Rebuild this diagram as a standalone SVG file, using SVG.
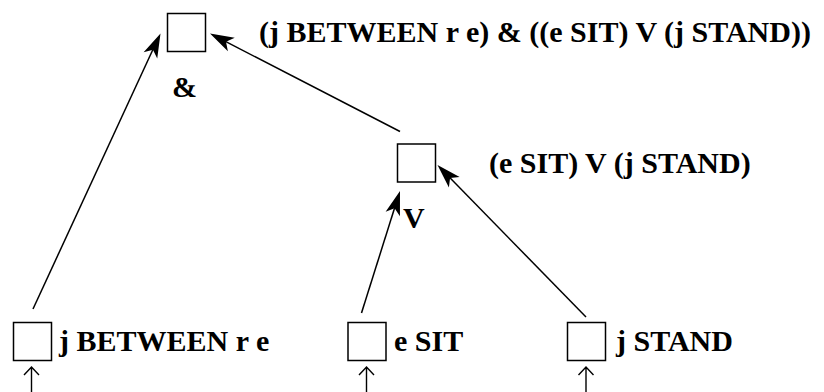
<svg xmlns="http://www.w3.org/2000/svg" width="824" height="392" viewBox="0 0 824 392">
<style>
.box{fill:#fff;stroke:#000;stroke-width:1.5}
.lbl{font-family:'Liberation Serif','Times New Roman',serif;font-weight:bold;font-size:30px;fill:#000}
.edge{stroke:#000;stroke-width:1.5;fill:none}
.in{stroke:#000;stroke-width:1.4;fill:none}
</style>
<defs>
<path id="head" d="M0,0 L-24,-7.5 L-18,0 L-24,7.5 Z" fill="#000"/>
</defs>
<rect width="824" height="392" fill="#fff"/>
<g id="connectors">
<line class="edge" x1="33" y1="309" x2="155" y2="45"/>
<use href="#head" transform="translate(160.5,33.5) rotate(-65.2)"/>
<line class="edge" x1="400" y1="131.5" x2="222" y2="39.7"/>
<use href="#head" transform="translate(210,33.5) rotate(-152.7)"/>
<line class="edge" x1="361.5" y1="313" x2="396" y2="203.5"/>
<use href="#head" transform="translate(400,191) rotate(-72.5)"/>
<line class="edge" x1="586" y1="317" x2="446.5" y2="174.3"/>
<use href="#head" transform="translate(437.5,165) rotate(-134.3)"/>
<path class="in" d="M31.5,392 V367 M24,375 L31.5,367 L39,375"/>
<path class="in" d="M366.5,392 V367 M359,375 L366.5,367 L374,375"/>
<path class="in" d="M586,392 V367 M578.5,375 L586,367 L593.5,375"/>
</g>
<g id="n-and">
<rect class="box" x="167.5" y="13.5" width="38" height="38"/>
<text class="lbl" x="172" y="97">&amp;</text>
<text class="lbl" x="259" y="42">(j BETWEEN r e) &amp; ((e SIT) V (j STAND))</text>
</g>
<g id="n-or">
<rect class="box" x="397.5" y="144" width="38" height="38"/>
<text class="lbl" x="403" y="228">V</text>
<text class="lbl" x="489" y="173">(e SIT) V (j STAND)</text>
</g>
<g id="n-between">
<rect class="box" x="13.5" y="322.5" width="38" height="38"/>
<text class="lbl" x="59" y="351">j BETWEEN r e</text>
</g>
<g id="n-sit">
<rect class="box" x="348" y="322.5" width="38" height="38"/>
<text class="lbl" x="394" y="351">e SIT</text>
</g>
<g id="n-stand">
<rect class="box" x="567.5" y="322.5" width="38" height="38"/>
<text class="lbl" x="616" y="351">j STAND</text>
</g>
</svg>
